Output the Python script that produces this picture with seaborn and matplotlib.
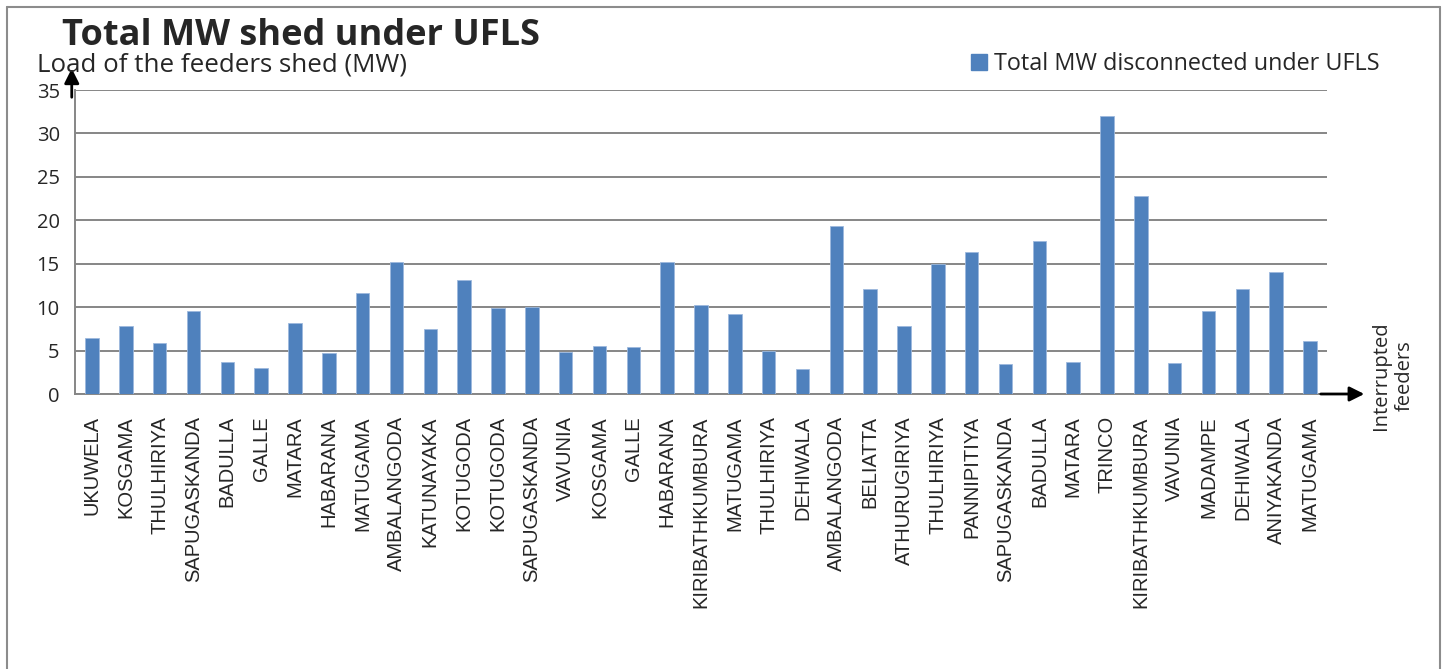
import numpy as np
import pandas as pd
import matplotlib.pyplot as plt
from matplotlib.lines import Line2D
from matplotlib.patches import Patch
import seaborn as sns

feeders = ["UKUWELA", "KOSGAMA", "THULHIRIYA", "SAPUGASKANDA", "BADULLA", "GALLE",
           "MATARA", "HABARANA", "MATUGAMA", "AMBALANGODA", "KATUNAYAKA", "KOTUGODA",
           "KOTUGODA", "SAPUGASKANDA", "VAVUNIA", "KOSGAMA", "GALLE", "HABARANA",
           "KIRIBATHKUMBURA", "MATUGAMA", "THULHIRIYA", "DEHIWALA", "AMBALANGODA",
           "BELIATTA", "ATHURUGIRIYA", "THULHIRIYA", "PANNIPITIYA", "SAPUGASKANDA",
           "BADULLA", "MATARA", "TRINCO", "KIRIBATHKUMBURA", "VAVUNIA", "MADAMPE",
           "DEHIWALA", "ANIYAKANDA", "MATUGAMA"]
mw_shed = [6.42, 7.81, 5.85, 9.54, 3.65, 3.0, 8.15, 4.69, 11.58, 15.15, 7.46, 13.12,
           9.85, 10.0, 4.81, 5.54, 5.42, 15.19, 10.27, 9.19, 4.96, 2.92, 19.38,
           12.08, 7.81, 14.96, 16.31, 3.4, 17.66, 3.72, 31.98, 22.84, 3.61, 9.52,
           12.09, 14.05, 6.07]
yticks = [0, 5, 10, 15, 20, 25, 30, 35]

df = pd.DataFrame({"id": range(len(feeders)), "feeder": feeders, "MW": mw_shed})

sns.set_style("white")
plt.rcParams["font.family"] = ["Open Sans", "DejaVu Sans"]

blue = "#4F81BD"
grid_c = "#868686"

fig = plt.figure(figsize=(14.46, 6.69), dpi=100)
ax = fig.add_axes([75 / 1446, 1 - 394 / 669, (1327 - 75) / 1446, (394 - 90) / 669])

sns.barplot(data=df, x="id", y="MW", color=blue, width=0.4, saturation=1,
            edgecolor="#9DB9DD", linewidth=0.6, ax=ax, zorder=3)

n = len(feeders)
ax.set_xlim(-0.5, n - 0.5)
ax.set_ylim(0, 35)
ax.set_yticks(yticks)
ax.set_yticklabels([str(v) for v in yticks], fontsize=14.5)
ax.set_xticks(range(n))
ax.set_xticklabels(feeders, rotation=90, fontsize=14.5, family="Liberation Sans")
ax.set_xticks(np.arange(-0.5, n, 1), minor=True)
ax.tick_params(axis="x", which="major", length=0, pad=16)
ax.tick_params(axis="x", which="minor", length=6, width=1.2, color=grid_c, direction="out")
ax.tick_params(axis="y", length=5, width=1.2, color=grid_c, direction="out", pad=6)
ax.set_xlabel("")
ax.set_ylabel("")
ax.yaxis.grid(True, color=grid_c, linewidth=1.4, zorder=0)
ax.set_axisbelow(True)
for s in ["top", "right"]:
    ax.spines[s].set_visible(False)
for s in ["left", "bottom"]:
    ax.spines[s].set_color(grid_c)
    ax.spines[s].set_linewidth(1.4)

# axis arrows
ax.annotate("", xy=(-0.0026, 1.08), xycoords="axes fraction",
            xytext=(-0.0026, 0.967), textcoords="axes fraction",
            arrowprops=dict(arrowstyle="-|>", color="black", lw=2, mutation_scale=22),
            annotation_clip=False)
ax.annotate("", xy=(1.032, 0), xycoords="axes fraction",
            xytext=(0.9928, 0), textcoords="axes fraction",
            arrowprops=dict(arrowstyle="-|>", color="black", lw=2, mutation_scale=22),
            annotation_clip=False)

fig.text(1393 / 1446, 1 - 376 / 669, "Interrupted\nfeeders", rotation=90,
         ha="center", va="center", fontsize=14.5, linespacing=1.25)

fig.text(62 / 1446, 1 - 36 / 669, "Total MW shed under UFLS", fontsize=26,
         fontweight="bold", ha="left", va="center")
fig.text(37 / 1446, 1 - 65 / 669, "Load of the feeders shed (MW)", fontsize=18.6,
         ha="left", va="center")

fig.legend(handles=[Patch(color=blue)], labels=["Total MW disconnected under UFLS"],
           loc="center left", bbox_to_anchor=(962 / 1446, 1 - 64 / 669),
           frameon=False, fontsize=16.8, handlelength=0.65, handleheight=0.65,
           handletextpad=0.3, borderaxespad=0)

# chart frame
fc = "#8C8C8C"
fig.add_artist(Line2D([7 / 1446, 7 / 1446], [0, 1 - 7 / 669], color=fc, lw=1.5))
fig.add_artist(Line2D([7 / 1446, 1440 / 1446], [1 - 7 / 669, 1 - 7 / 669], color=fc, lw=1.5))
fig.add_artist(Line2D([1440 / 1446, 1440 / 1446], [0, 1 - 7 / 669], color=fc, lw=1.5))

fig.savefig("out.png", dpi=100, facecolor="white")
